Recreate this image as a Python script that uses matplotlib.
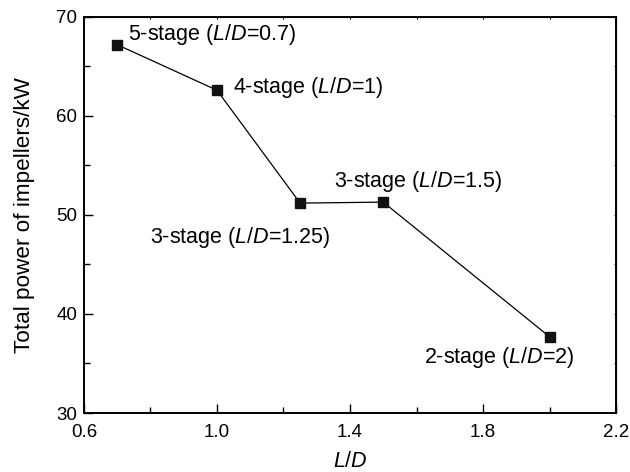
import matplotlib
matplotlib.use("Agg")
from matplotlib import pyplot as plt
from matplotlib.ticker import MultipleLocator

plt.rcParams['font.family'] = ['Liberation Sans', 'DejaVu Sans']
plt.rcParams['mathtext.fontset'] = 'custom'
plt.rcParams['mathtext.rm'] = 'Liberation Sans'
plt.rcParams['mathtext.it'] = 'Liberation Sans:italic'

# data
ld_ratio = [0.7, 1.0, 1.25, 1.5, 2.0]
power_kw = [67.2, 62.6, 51.2, 51.3, 37.7]
labels = ['5-stage ($\\it{L/D}$=0.7)', '4-stage ($\\it{L/D}$=1)',
          '3-stage ($\\it{L/D}$=1.25)', '3-stage ($\\it{L/D}$=1.5)',
          '2-stage ($\\it{L/D}$=2)']
# label anchor (left, center) in data coords
label_pos = [(0.732, 68.2), (1.048, 62.9), (0.80, 47.7), (1.352, 53.4), (1.623, 35.6)]

fig = plt.figure(figsize=(6.3, 4.72), dpi=100)
ax = fig.add_axes([0.1333, 0.125, 0.8445, 0.839])
ax.plot(ld_ratio, power_kw, color='black', lw=0.9, marker='s', ms=7,
        markerfacecolor='#111111', markeredgecolor='#111111')
for txt, (tx, ty) in zip(labels, label_pos):
    ax.text(tx, ty, txt, fontsize=15.5, ha='left', va='center')

ax.set_xlim(0.6, 2.2)
ax.set_ylim(30, 70)
ax.xaxis.set_minor_locator(MultipleLocator(0.2))
ax.yaxis.set_major_locator(MultipleLocator(10))
ax.yaxis.set_minor_locator(MultipleLocator(5))
ax.set_xticks([0.6, 1.0, 1.4, 1.8, 2.2], ['0.6', '1.0', '1.4', '1.8', '2.2'])
ax.tick_params(which='both', direction='in', labelsize=13.5, width=1)
ax.tick_params(which='major', length=6.5)
ax.tick_params(which='minor', length=4)
ax.tick_params(axis='x', which='major', pad=8)
ax.tick_params(axis='y', which='major', pad=5)
for s in ax.spines.values():
    s.set_linewidth(1.4)

# faint ticks on the top and right frame
top = ax.secondary_xaxis('top')
top.xaxis.set_major_locator(MultipleLocator(0.2))
top.tick_params(direction='in', length=1.5, labeltop=False)
right = ax.secondary_yaxis('right')
right.yaxis.set_major_locator(MultipleLocator(5))
right.tick_params(direction='in', length=1.5, labelright=False)

ax.set_xlabel('$\\it{L/D}$', fontsize=15.5, labelpad=7)
ax.set_ylabel('Total power of impellers/kW', fontsize=16.2, labelpad=15)

fig.savefig('out.png', dpi=100)
